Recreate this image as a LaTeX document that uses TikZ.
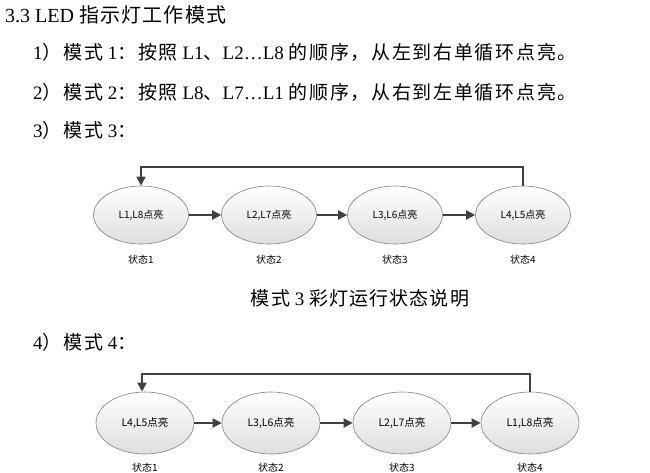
\documentclass[tikz,border=0pt]{standalone}
\usepackage{fontspec}
\setmainfont{Liberation Serif}
\newfontfamily\cjk{Noto Sans CJK SC}
\newfontfamily\cjkw[LetterSpace=6]{Noto Sans CJK SC}
\newfontfamily\cjkx[LetterSpace=9]{Noto Sans CJK SC}
\usetikzlibrary{arrows.meta,shapes.geometric}
\newcommand\zh[1]{{\cjkw #1}}
\newcommand\zhx[1]{{\cjkx #1}}
\tikzset{
  body/.style={anchor=west,inner sep=0pt,font=\fontsize{19}{22}\selectfont},
  stnode/.style={ellipse,draw=black!50,line width=0.6pt,top color=white,bottom color=black!13,
     minimum width=95pt,minimum height=58pt,inner sep=0pt,font=\fontsize{10}{12}\cjk},
  stnodeb/.style={stnode,minimum width=98pt,minimum height=62pt,font=\fontsize{10.5}{12}\cjk},
  stlab/.style={inner sep=0pt,font=\fontsize{10}{12}\cjk},
  flow/.style={draw=black!75,line width=2pt,-{Triangle[length=9pt,width=9pt]}},
  back/.style={draw=black!75,line width=1.6pt,-{Triangle[length=9pt,width=9pt]}},
}
\begin{document}
\begin{tikzpicture}[x=1pt,y=-1pt]
\useasboundingbox (0,0) rectangle (650,472);
\node[body] (t0) at (5,15) {\fontsize{20}{22}\selectfont 3.3 LED \zh{指示灯工作模式}};
\node[body] (t1) at (33,52) {1\zhx{）模式} 1\zhx{：按照} L1\zhx{、}L2…L8 \zhx{的顺序，从左到右单循环点亮。}};
\node[body] (t2) at (33,92) {2\zhx{）模式} 2\zhx{：按照} L8\zhx{、}L7…L1 \zhx{的顺序，从右到左单循环点亮。}};
\node[body] (t3) at (33,130) {3\zhx{）模式} 3\zhx{：}};
% diagram 1
\node[stnode] (a1) at (141,215) {L1,L8点亮};
\node[stnode] (a2) at (269,215) {L2,L7点亮};
\node[stnode] (a3) at (395,215) {L3,L6点亮};
\node[stnode] (a4) at (523,215) {L4,L5点亮};
\node[stlab] (la1) at (141,260) {状态1};
\node[stlab] (la2) at (269,260) {状态2};
\node[stlab] (la3) at (395,260) {状态3};
\node[stlab] (la4) at (523,260) {状态4};
\draw[flow] (a1) -- (a2);
\draw[flow] (a2) -- (a3);
\draw[flow] (a3) -- (a4);
\coordinate (ca) at (523,167);
\coordinate (cb) at (141,167);
\draw[back] (a4.north) -- (ca) -- (cb) -- (a1.north);
\node[body,anchor=center] (cap) at (360,298) {\zh{模式} 3 \zh{彩灯运行状态说明}};
\node[body] (t4) at (33,342) {4\zhx{）模式} 4\zhx{：}};
% diagram 2
\node[stnodeb] (b1) at (145,423) {L4,L5点亮};
\node[stnodeb] (b2) at (271,423) {L3,L6点亮};
\node[stnodeb] (b3) at (402,423) {L2,L7点亮};
\node[stnodeb] (b4) at (530,423) {L1,L8点亮};
\node[stlab] (lb1) at (145,468) {状态1};
\node[stlab] (lb2) at (271,468) {状态2};
\node[stlab] (lb3) at (402,468) {状态3};
\node[stlab] (lb4) at (530,468) {状态4};
\draw[flow] (b1) -- (b2);
\draw[flow] (b2) -- (b3);
\draw[flow] (b3) -- (b4);
\coordinate (cc) at (530,374);
\coordinate (cd) at (142,374);
\draw[back] (b4.north) -- (cc) -- (cd) -- (cd |- b1.north);
\end{tikzpicture}
\end{document}
